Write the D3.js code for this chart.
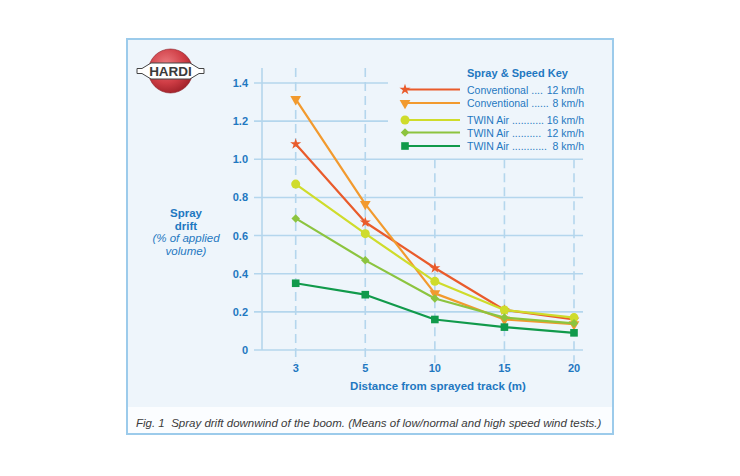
<!DOCTYPE html>
<html><head><meta charset="utf-8">
<script src="https://cdn.jsdelivr.net/npm/d3@7"></script>
<style>html,body{margin:0;padding:0;background:#fff;}svg{display:block;font-family:"Liberation Sans",Arial,sans-serif;}text{white-space:pre;}</style>
</head><body>
<svg id="c" width="740" height="476"></svg>
<script>
const distances = [3, 5, 10, 15, 20];
const yTicks = [0, 0.2, 0.4, 0.6, 0.8, 1.0, 1.2, 1.4];
const seriesNames = ["Conventional ....", "Conventional ......", "TWIN Air ...........", "TWIN Air ..........", "TWIN Air ............"];
const seriesSpeeds = ["12 km/h", "8 km/h", "16 km/h", "12 km/h", "8 km/h"];
const conv12 = [1.08, 0.67, 0.43, 0.21, 0.16];
const conv8 = [1.315, 0.765, 0.297, 0.16, 0.135];
const twin16 = [0.87, 0.61, 0.36, 0.21, 0.17];
const twin12 = [0.69, 0.47, 0.27, 0.17, 0.14];
const twin8 = [0.35, 0.29, 0.16, 0.12, 0.09];
const seriesValues = [conv12, conv8, twin16, twin12, twin8];
const seriesColors = ["#e95b2b", "#f29a2e", "#cfdc2b", "#8cc43f", "#119a4b"];
const seriesSymbols = [d3.symbolStar, d3.symbolTriangle, d3.symbolCircle, d3.symbolSquare, d3.symbolSquare];
const seriesSizes = [38, 50, 64, 36, 58];
const seriesRot = [0, 180, 0, 45, 0];

const blue = "#1f78c1", grid = "#b4d6ed", bg = "#eef5fb";
const svg = d3.select("#c");

// frame
svg.append("rect").attr("x",127).attr("y",39).attr("width",486).attr("height",395).attr("fill","#fbfdff").attr("stroke","#9ccbeb").attr("stroke-width",2);
svg.append("rect").attr("x",128).attr("y",40).attr("width",484).attr("height",367).attr("fill",bg);

const x = d3.scalePoint().domain(distances).range([295.7, 574]);
const y = d3.scaleLinear().domain([0, 1.4]).range([350, 83]);
const legendLeft = 388, topY = 68;

// horizontal grid
svg.append("g").selectAll("line").data(yTicks).join("line")
  .attr("x1",254).attr("x2",d=> d>1.05 ? legendLeft : 583)
  .attr("y1",d=>y(d)).attr("y2",d=>y(d))
  .attr("stroke",grid).attr("stroke-width",1.6);
// vertical dashed grid
svg.append("g").selectAll("line").data(distances).join("line")
  .attr("x1",d=>x(d)).attr("x2",d=>x(d))
  .attr("y1",d=> x(d) > legendLeft ? y(1.0) : topY).attr("y2",363)
  .attr("stroke",grid).attr("stroke-width",1.6).attr("stroke-dasharray","9,5");
// y axis line
svg.append("line").attr("x1",262).attr("x2",262).attr("y1",topY).attr("y2",350).attr("stroke",grid).attr("stroke-width",1.6);

// y tick labels
svg.append("g").selectAll("text").data(yTicks).join("text")
  .attr("x",248).attr("y",d=>y(d)+4).attr("text-anchor","end")
  .attr("fill",blue).attr("font-weight","bold").attr("font-size",11)
  .text(d=> d===0 ? "0" : d3.format(".1f")(d));
// x tick labels
svg.append("g").selectAll("text").data(distances).join("text")
  .attr("x",d=>x(d)).attr("y",372).attr("text-anchor","middle")
  .attr("fill",blue).attr("font-weight","bold").attr("font-size",11)
  .text(d=>d);
// axis titles
svg.append("text").attr("x",438).attr("y",390).attr("text-anchor","middle").attr("fill",blue)
  .attr("font-weight","bold").attr("font-size",11.5).text("Distance from sprayed track (m)");
const yt = svg.append("text").attr("text-anchor","middle").attr("fill",blue).attr("font-size",11.5);
yt.append("tspan").attr("x",186).attr("y",217).attr("font-weight","bold").text("Spray");
yt.append("tspan").attr("x",186).attr("y",229.5).attr("font-weight","bold").text("drift");
yt.append("tspan").attr("x",186).attr("y",242).attr("font-style","italic").text("(% of applied");
yt.append("tspan").attr("x",186).attr("y",254.5).attr("font-style","italic").text("volume)");

// series
const line = d3.line().x((d,i)=>x(distances[i])).y(d=>y(d));
seriesValues.forEach((vals,k)=>{
  const g = svg.append("g");
  g.append("path").attr("d",line(vals)).attr("fill","none").attr("stroke",seriesColors[k]).attr("stroke-width",2.2).attr("stroke-linejoin","round");
  g.selectAll("path.m").data(vals).join("path").attr("class","m")
    .attr("d",d3.symbol(seriesSymbols[k], seriesSizes[k]))
    .attr("transform",(d,i)=>`translate(${x(distances[i])},${y(d)}) rotate(${seriesRot[k]})`)
    .attr("fill",seriesColors[k]);
});

// legend
svg.append("text").attr("x",467).attr("y",77).attr("fill",blue).attr("font-weight","bold").attr("font-size",11).text("Spray & Speed Key");
const rowsY = [89.5, 103, 120, 132.5, 146];
const lg = svg.append("g").selectAll("g").data(seriesNames).join("g")
  .attr("transform",(d,i)=>`translate(0,${rowsY[i]})`);
lg.append("line").attr("x1",403).attr("x2",460).attr("y1",0).attr("y2",0)
  .attr("stroke",(d,i)=>seriesColors[i]).attr("stroke-width",2);
lg.append("path").attr("d",(d,i)=>d3.symbol(seriesSymbols[i], seriesSizes[i])())
  .attr("transform",(d,i)=>`translate(405,0) rotate(${seriesRot[i]})`).attr("fill",(d,i)=>seriesColors[i]);
lg.append("text").attr("x",467).attr("y",4).attr("fill",blue).attr("font-size",10.5).text(d=>d);
lg.append("text").attr("x",584).attr("y",4).attr("text-anchor","end").attr("fill",blue).attr("font-size",10.5).text((d,i)=>seriesSpeeds[i]);

// caption
svg.append("text").attr("x",136).attr("y",427).attr("fill","#3a3a3a").attr("font-style","italic").attr("font-size",11.5)
  .text("Fig. 1  Spray drift downwind of the boom. (Means of low/normal and high speed wind tests.)");

// HARDI logo
const defs = svg.append("defs");
const rg = defs.append("radialGradient").attr("id","rg").attr("cx","40%").attr("cy","35%").attr("r","70%");
rg.append("stop").attr("offset","0%").attr("stop-color","#ec7b80");
rg.append("stop").attr("offset","60%").attr("stop-color","#cf3d45");
rg.append("stop").attr("offset","100%").attr("stop-color","#9d1f27");
const logo = svg.append("g");
logo.append("circle").attr("cx",170.5).attr("cy",71).attr("r",22).attr("fill","url(#rg)").attr("stroke","#8a1a22").attr("stroke-width",0.6);
logo.append("path").attr("d","M137,68.5 L142,68.5 L151,63 L190,63 L199,68.5 L204,68.5 L204,73.5 L199,73.5 L190,79 L151,79 L142,73.5 L137,73.5 Z")
  .attr("fill","#fff").attr("stroke","#444").attr("stroke-width",1);
logo.append("text").attr("x",170.5).attr("y",76).attr("text-anchor","middle").attr("font-weight","bold").attr("font-size",13.5).attr("fill","#3a3a3a").text("HARDI");
</script>
</body></html>
